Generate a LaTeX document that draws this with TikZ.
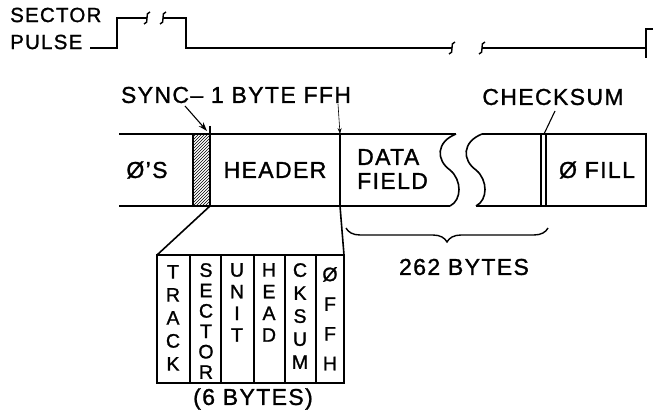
\documentclass[tikz,border=0pt]{standalone}
\usepackage{fontspec}
\setmainfont{Liberation Sans}
\newfontfamily\plate{Liberation Sans}[FakeBold=1.2,LetterSpace=6]
\usetikzlibrary{arrows.meta,patterns,decorations.pathreplacing}

\begin{document}
\begin{tikzpicture}[
  x=1pt,y=-1pt,
  wire/.style={line width=1.6pt},
  lead/.style={line width=1.1pt},
  ptr/.style={line width=1.1pt,-{Stealth[length=9pt,width=6pt]}},
  brk/.style={line width=1.4pt},
  lbl/.style={font=\plate\fontsize{23}{24}\selectfont,inner sep=0pt},
  sig/.style={font=\plate\fontsize{20.5}{24}\selectfont,inner sep=0pt,anchor=west},
  col/.style={font=\plate\fontsize{19.5}{#1}\selectfont,align=center,anchor=north,inner sep=0pt}
]
  \useasboundingbox (0,0) rectangle (658,417);

  \node[sig] (sector) at (10,15) {SECTOR};
  \node[sig] (pulse) at (10,42) {PULSE};
  \draw[wire] (90,48) -- (117,48) -- (117,18) -- (147,18);
  \draw[wire] (163,18) -- (186,18) -- (186,48) -- (452,48);
  \draw[wire] (482,48) -- (646,48);
  \draw[wire] (646,58) -- (646,29) -- (653,29);
  \foreach \x/\y in {147/18,163/18,452/48,482/48}
    \draw[brk] ({\x+3},{\y-6}) .. controls ({\x-3},{\y-6}) and ({\x+3},{\y+6}) .. ({\x-3},{\y+6});

  \draw[wire] (119,134) -- (456,134);
  \draw[wire] (119,206) -- (450,206);
  \draw[wire] (456,134) .. controls (436,142) and (436,160) .. (450,170)
    .. controls (462,180) and (462,200) .. (450,206);
  \draw[wire] (482,134) .. controls (462,142) and (462,160) .. (476,170)
    .. controls (488,180) and (488,200) .. (476,206);
  \draw[wire] (482,134) -- (646,134) -- (646,206) -- (476,206);
  \draw[wire,pattern=north east lines] (193,134) rectangle (210,206);
  \draw[wire] (340,134) -- (340,206);
  \draw[wire] (541,134) -- (541,206);
  \draw[wire] (546,134) -- (546,206);

  \node[lbl] (zeros) at (147,170) {Ø’S};
  \node[lbl] (header) at (275,170) {HEADER};
  \node[lbl,align=left,anchor=west] (data) at (357,169) {DATA\\FIELD};
  \node[lbl] (fill) at (597,170) {Ø FILL};

  \node[lbl] (sync) at (236,95) {SYNC– 1 BYTE FFH};
  \node[lbl] (cksum) at (553,97) {CHECKSUM};
  \coordinate (syncTail) at (185,106);
  \coordinate (syncTop) at (207,131);
  \coordinate (ffhTail) at (338,104);
  \coordinate (ffhTop) at (340,134);
  \coordinate (ckTail) at (555,111);
  \coordinate (ckTop) at (544,134);
  \draw[ptr] (syncTail) -- (syncTop);
  \draw[lead] (210,126) -- (210,134);
  \draw[line width=0.6pt,-{Stealth[length=6pt,width=4pt]}] (ffhTail) -- (ffhTop);
  \draw[lead] (ckTail) -- (ckTop);

  \draw[wire] (210,206) -- (157,255);
  \draw[wire] (340,206) -- (344,255);
  \draw[wire] (157,255) rectangle (344,383);
  \foreach \x in {190,221,254,285,316}
    \draw[wire] (\x,255) -- (\x,383);
  \node[col=23] (track) at (173,265) {T\\R\\A\\C\\K};
  \node[col=20.4] (sect) at (206,263) {S\\E\\C\\T\\O\\R};
  \node[col=21.7] (unit) at (237,263) {U\\N\\I\\T};
  \node[col=21.7] (head) at (269,263) {H\\E\\A\\D};
  \node[col=23] (ck) at (300,263) {C\\K\\S\\U\\M};
  \node[col=29.7] (ffh) at (330,267) {Ø\\F\\F\\H};
  \node[lbl] (six) at (253,399) {(6 BYTES)};

  \draw[brk,decorate,decoration={brace,mirror,amplitude=14pt}] (346,228) -- (548,228);
  \node[lbl] (bytes) at (464,267) {262 BYTES};
\end{tikzpicture}
\end{document}
